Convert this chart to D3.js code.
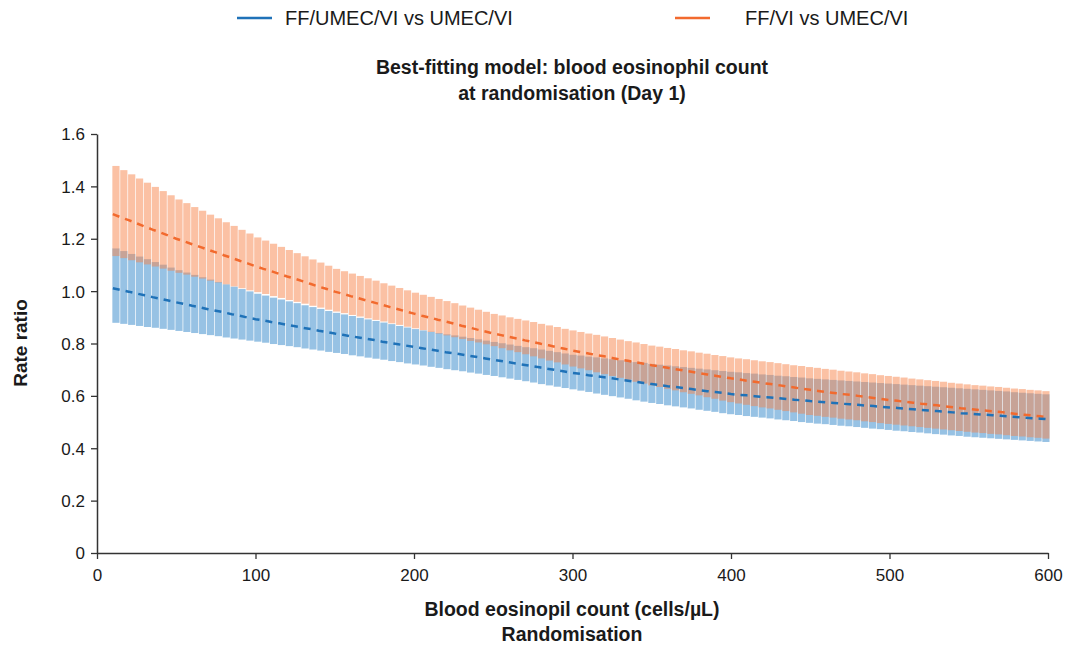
<!DOCTYPE html>
<html>
<head>
<meta charset="utf-8">
<script src="https://cdn.jsdelivr.net/npm/d3@7"></script>
<style>
  html, body { margin: 0; padding: 0; background: #fff; }
  svg text { font-family: "Liberation Sans", Arial, sans-serif; fill: #1a1a1a; }
</style>
</head>
<body>
<svg id="chart" width="1075" height="649"></svg>
<script>
// Blood eosinophil count (cells/µL) — categories
const eosCounts = [10,15,20,25,30,35,40,45,50,55,60,65,70,75,80,85,90,95,100,105,110,115,120,125,130,135,140,145,150,155,160,165,170,175,180,185,190,195,200,205,210,215,220,225,230,235,240,245,250,255,260,265,270,275,280,285,290,295,300,305,310,315,320,325,330,335,340,345,350,355,360,365,370,375,380,385,390,395,400,405,410,415,420,425,430,435,440,445,450,455,460,465,470,475,480,485,490,495,500,505,510,515,520,525,530,535,540,545,550,555,560,565,570,575,580,585,590,595,600];

// FF/VI vs UMEC/VI
const ffviUpper = [1.478,1.462,1.446,1.430,1.414,1.398,1.382,1.366,1.350,
1.336,1.321,1.307,1.292,1.278,1.263,1.249,1.234,1.220,1.205,
1.193,1.181,1.169,1.157,1.145,1.133,1.121,1.109,1.097,1.085,
1.076,1.067,1.058,1.049,1.040,1.030,1.021,1.012,1.003,0.994,
0.986,0.978,0.970,0.962,0.954,0.945,0.937,0.929,0.921,0.913,
0.907,0.900,0.894,0.888,0.882,0.875,0.869,0.863,0.856,0.850,
0.844,0.838,0.833,0.827,0.821,0.815,0.809,0.804,0.798,0.792,
0.788,0.783,0.779,0.774,0.770,0.765,0.761,0.756,0.752,0.747,
0.743,0.740,0.736,0.732,0.729,0.725,0.721,0.717,0.714,0.710,
0.707,0.703,0.700,0.696,0.693,0.690,0.686,0.683,0.679,0.676,
0.673,0.670,0.666,0.663,0.660,0.657,0.654,0.650,0.647,0.644,
0.641,0.639,0.636,0.634,0.631,0.628,0.626,0.623,0.621,0.618];
const ffviRatio = [1.294,1.282,1.271,1.259,1.247,1.235,1.224,1.212,1.200,
1.190,1.179,1.169,1.158,1.148,1.137,1.127,1.116,1.106,1.095,
1.085,1.076,1.066,1.056,1.047,1.037,1.027,1.017,1.008,0.998,
0.990,0.981,0.973,0.964,0.956,0.948,0.939,0.931,0.922,0.914,
0.906,0.899,0.891,0.884,0.876,0.868,0.861,0.853,0.846,0.838,
0.832,0.825,0.819,0.812,0.806,0.799,0.793,0.786,0.780,0.773,
0.767,0.762,0.756,0.751,0.745,0.739,0.734,0.728,0.723,0.717,
0.712,0.707,0.702,0.697,0.692,0.687,0.682,0.677,0.672,0.667,
0.663,0.658,0.654,0.649,0.645,0.641,0.636,0.632,0.627,0.623,
0.619,0.615,0.611,0.607,0.604,0.600,0.596,0.592,0.588,0.584,
0.581,0.577,0.574,0.570,0.567,0.564,0.560,0.557,0.553,0.550,
0.547,0.544,0.541,0.538,0.535,0.531,0.528,0.525,0.522,0.519];
const ffviLower = [1.134,1.126,1.118,1.110,1.102,1.094,1.086,1.078,1.070,
1.063,1.055,1.048,1.040,1.033,1.026,1.018,1.011,1.003,0.996,
0.989,0.981,0.974,0.966,0.959,0.952,0.944,0.937,0.929,0.922,
0.916,0.909,0.903,0.896,0.890,0.884,0.877,0.871,0.864,0.858,
0.851,0.844,0.838,0.831,0.824,0.817,0.810,0.804,0.797,0.790,
0.782,0.774,0.767,0.759,0.751,0.743,0.735,0.728,0.720,0.712,
0.705,0.698,0.690,0.683,0.676,0.669,0.662,0.654,0.647,0.640,
0.634,0.627,0.621,0.614,0.608,0.602,0.595,0.589,0.582,0.576,
0.571,0.566,0.561,0.556,0.552,0.547,0.542,0.537,0.532,0.527,
0.524,0.520,0.517,0.513,0.510,0.507,0.503,0.500,0.496,0.493,
0.490,0.487,0.484,0.481,0.478,0.475,0.472,0.469,0.466,0.463,
0.460,0.458,0.455,0.453,0.450,0.447,0.445,0.442,0.440,0.437];

// FF/UMEC/VI vs UMEC/VI
const trioUpper = [1.163,1.153,1.142,1.132,1.122,1.111,1.101,1.090,1.080,
1.071,1.062,1.053,1.044,1.035,1.026,1.017,1.008,0.999,0.990,
0.983,0.975,0.968,0.961,0.954,0.946,0.939,0.932,0.924,0.917,
0.911,0.905,0.898,0.892,0.886,0.880,0.874,0.867,0.861,0.855,
0.850,0.845,0.840,0.835,0.831,0.826,0.821,0.816,0.811,0.806,
0.801,0.796,0.791,0.786,0.782,0.777,0.772,0.767,0.762,0.757,
0.754,0.750,0.747,0.743,0.740,0.736,0.733,0.729,0.726,0.722,
0.719,0.716,0.713,0.710,0.707,0.704,0.701,0.698,0.695,0.692,
0.690,0.687,0.685,0.682,0.680,0.677,0.675,0.672,0.670,0.667,
0.665,0.663,0.661,0.659,0.657,0.655,0.653,0.651,0.649,0.647,
0.645,0.643,0.641,0.639,0.637,0.635,0.633,0.631,0.629,0.627,
0.625,0.623,0.621,0.619,0.617,0.614,0.612,0.610,0.608,0.606];
const trioRatio = [1.011,1.004,0.998,0.991,0.984,0.977,0.971,0.964,0.957,
0.951,0.944,0.938,0.931,0.925,0.919,0.912,0.906,0.899,0.893,
0.888,0.882,0.877,0.871,0.866,0.860,0.855,0.849,0.844,0.838,
0.833,0.828,0.823,0.818,0.813,0.807,0.802,0.797,0.792,0.787,
0.782,0.777,0.772,0.767,0.763,0.758,0.753,0.748,0.743,0.738,
0.733,0.728,0.723,0.718,0.713,0.708,0.703,0.698,0.693,0.688,
0.684,0.679,0.675,0.671,0.667,0.662,0.658,0.654,0.649,0.645,
0.641,0.637,0.634,0.630,0.626,0.622,0.618,0.615,0.611,0.607,
0.604,0.602,0.599,0.596,0.594,0.591,0.588,0.585,0.583,0.580,
0.578,0.575,0.573,0.570,0.568,0.566,0.563,0.561,0.558,0.556,
0.554,0.551,0.549,0.546,0.544,0.542,0.539,0.537,0.534,0.532,
0.530,0.528,0.526,0.524,0.522,0.519,0.517,0.515,0.513,0.511];
const trioLower = [0.879,0.875,0.871,0.867,0.863,0.860,0.856,0.852,0.848,
0.844,0.840,0.836,0.832,0.828,0.823,0.819,0.815,0.811,0.807,
0.803,0.798,0.794,0.790,0.786,0.781,0.777,0.773,0.768,0.764,
0.760,0.755,0.751,0.746,0.742,0.738,0.733,0.729,0.724,0.720,
0.716,0.711,0.707,0.702,0.698,0.694,0.689,0.685,0.680,0.676,
0.671,0.666,0.661,0.656,0.651,0.645,0.640,0.635,0.630,0.625,
0.620,0.615,0.609,0.604,0.599,0.594,0.589,0.583,0.578,0.573,
0.569,0.564,0.560,0.556,0.552,0.547,0.543,0.539,0.534,0.530,
0.527,0.523,0.520,0.517,0.514,0.510,0.507,0.504,0.500,0.497,
0.494,0.492,0.489,0.486,0.484,0.481,0.478,0.475,0.473,0.470,
0.467,0.465,0.462,0.460,0.457,0.454,0.452,0.449,0.447,0.444,
0.442,0.440,0.438,0.436,0.434,0.432,0.430,0.428,0.426,0.424];

const xTicks = [0,100,200,300,400,500,600];
const yTicks = [0,0.2,0.4,0.6,0.8,1.0,1.2,1.4,1.6];
const seriesNames = ["FF/UMEC/VI vs UMEC/VI", "FF/VI vs UMEC/VI"];
const titleLines = ["Best-fitting model: blood eosinophil count", "at randomisation (Day 1)"];
const xTitleLines = ["Blood eosinopil count (cells/µL)", "Randomisation"];
const yTitle = "Rate ratio";

const blue = "#1f72b8", orange = "#f26a2e";
const blueBand = "#2f86c9", orangeBand = "#f7844a";

const svg = d3.select("#chart");
const x = d3.scaleLinear().domain([0, 600]).range([97, 1048]);
const y = d3.scaleLinear().domain([0, 1.6]).range([553, 134]);
const band = d3.scaleBand().domain(d3.range(eosCounts.length)).range([x(eosCounts[0]) - 0.5, x(eosCounts[eosCounts.length-1]) + 1.5]).paddingInner(0.09).paddingOuter(0);

function drawBand(upper, lower, color, op) {
  svg.append("g").selectAll("rect").data(eosCounts).join("rect")
    .attr("x", (d, i) => band(i))
    .attr("width", band.bandwidth())
    .attr("y", (d, i) => y(upper[i]))
    .attr("height", (d, i) => y(lower[i]) - y(upper[i]))
    .attr("fill", color).attr("fill-opacity", op);
}
drawBand(trioUpper, trioLower, blueBand, 0.5);
drawBand(ffviUpper, ffviLower, orangeBand, 0.5);

const line = arr => d3.line().x((d, i) => x(eosCounts[i])).y((d, i) => y(arr[i]))(arr);
svg.append("path").attr("d", line(ffviRatio)).attr("fill", "none").attr("stroke", orange).attr("stroke-width", 2.5).attr("stroke-dasharray", "7,6");
svg.append("path").attr("d", line(trioRatio)).attr("fill", "none").attr("stroke", blue).attr("stroke-width", 2.5).attr("stroke-dasharray", "7,6");

// Axes
const fmt = d => d === 0 ? "0" : d3.format(".1f")(d);
const gx = svg.append("g").attr("transform", "translate(0,553)")
  .call(d3.axisBottom(x).tickValues(xTicks).tickSize(6).tickSizeOuter(0).tickPadding(10));
const gy = svg.append("g").attr("transform", "translate(97,0)")
  .call(d3.axisLeft(y).tickValues(yTicks).tickFormat(fmt).tickSize(6).tickSizeOuter(0).tickPadding(6));
[gx, gy].forEach(g => {
  g.select(".domain").attr("stroke", "#333").attr("stroke-width", 1.5);
  g.selectAll(".tick line").attr("stroke", "#333").attr("stroke-width", 1.3);
  g.selectAll(".tick text").attr("font-size", 17).attr("fill", "#1a1a1a")
    .style("font-family", '"Liberation Sans", Arial, sans-serif');
});
gy.selectAll(".tick text").attr("dy", "0.35em");

// Titles
const T = (xx, yy, s, txt) => svg.append("text").attr("x", xx).attr("y", yy).attr("text-anchor", "middle").attr("font-weight", "bold").attr("font-size", s).text(txt);
T(572, 74, 19.5, titleLines[0]);
T(572, 100, 19.5, titleLines[1]);
T(572, 616, 19.5, xTitleLines[0]);
T(572, 641, 19.5, xTitleLines[1]);
svg.append("text").attr("transform", "translate(27,343) rotate(-90)").attr("text-anchor", "middle").attr("font-weight", "bold").attr("font-size", 19).text(yTitle);

// Legend
const legend = [
  {name: seriesNames[0], color: blue, x1: 237, x2: 272, tx: 285},
  {name: seriesNames[1], color: orange, x1: 675, x2: 710, tx: 745}
];
legend.forEach(l => {
  svg.append("line").attr("x1", l.x1).attr("x2", l.x2).attr("y1", 18).attr("y2", 18).attr("stroke", l.color).attr("stroke-width", 2.5);
  svg.append("text").attr("x", l.tx).attr("y", 25).attr("font-size", 20).text(l.name);
});
</script>
</body>
</html>
